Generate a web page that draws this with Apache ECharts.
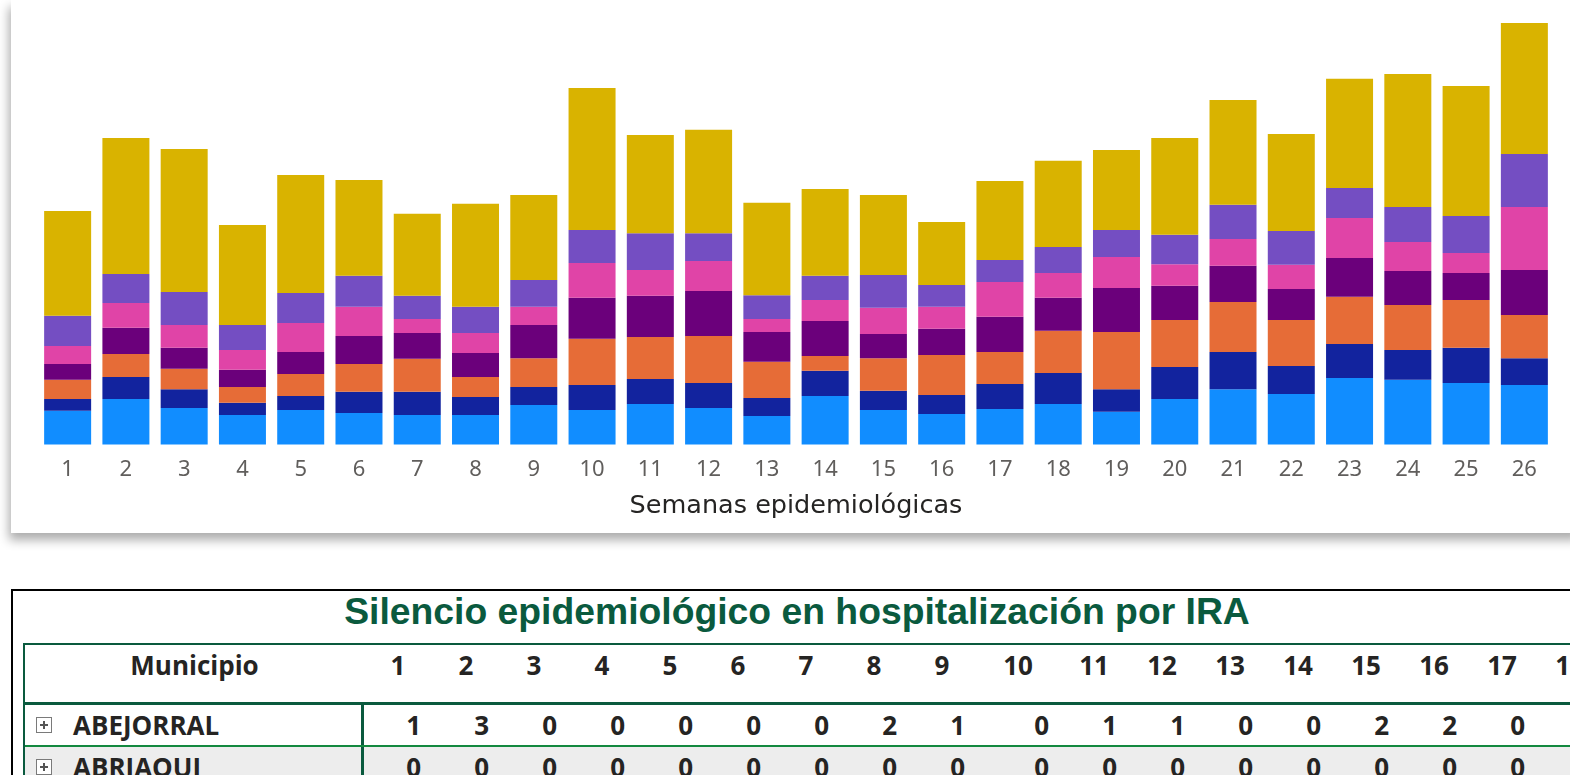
<!DOCTYPE html>
<html>
<head>
<meta charset="utf-8">
<script src="https://cdn.jsdelivr.net/npm/echarts@6.0.0/dist/echarts.min.js"></script>
<style>
    html, body { margin: 0; padding: 0; background: #fff; overflow: hidden; }
    body { width: 1570px; height: 775px; position: relative; }
    #casosPorSemana {
        position: absolute; left: 11px; top: 0; width: 1570px; height: 533px;
        background: #fff; box-shadow: -2px 7px 10px rgba(0, 0, 0, 0.33);
    }
    #silencio {
        position: absolute; left: 11px; top: 589px; width: 1568px; height: 300px;
        border: 2px solid #000; background: #fff;
    }
    #silencio .titulo {
        position: absolute; left: 0; right: 0; top: 0; text-align: center;
        font-family: 'Liberation Sans', Arial, sans-serif; font-weight: bold;
        font-size: 37.3px; line-height: 41px; color: #0A5A3E; white-space: nowrap;
    }
    #tabla {
        position: absolute; left: 10px; top: 52px; width: 1700px;
        border-left: 2px solid #0A5A3E; border-top: 2px solid #0A5A3E;
        font-family: 'Open Sans', sans-serif; font-weight: 700; font-size: 26px; color: #252423;
    }
    .fila { display: flex; white-space: nowrap; }
    .fila > div { flex: none; box-sizing: border-box; }
    .encabezado { height: 57px; border-bottom: 3px solid #0A5A3E; }
    .encabezado > div { text-align: center; line-height: 40px; }
    .dato { height: 40px; border-bottom: 2px solid #13893F; }
    .dato.gris { background: #EDEDED; border-bottom: none; }
    .dato > div { text-align: right; padding-right: 11px; line-height: 40px; }
    .dato > div.municipio { text-align: left; padding: 0 0 0 48px; border-right: 3px solid #0A5A3E; position: relative; }
    .expandir {
        position: absolute; left: 11px; top: 12px; width: 14px; height: 14px;
        border: 1.5px solid #7a7a7a; background: #fff;
    }
    .expandir::before { content: ''; position: absolute; left: 3px; right: 3px; top: 6.25px; height: 1.5px; background: #555; }
    .expandir::after { content: ''; position: absolute; top: 3px; bottom: 3px; left: 6.25px; width: 1.5px; background: #555; }
</style>
</head>
<body>
<div id="casosPorSemana"></div>
<div id="silencio">
    <div class="titulo">Silencio epidemiológico en hospitalización por IRA</div>
    <div id="tabla"></div>
</div>

<script>
// semanas epidemiologicas 1..26
const semanas = ['1','2','3','4','5','6','7','8','9','10','11','12','13','14','15','16','17','18','19','20','21','22','23','24','25','26']

// alto de cada segmento, de abajo hacia arriba
const grupo1 = [32.6,44,35.3,28.6,33.3,30.6,28.6,28.6,38.3,33.3,39.3,35.3,27.6,47,33.3,29.6,34.3,39.3,31.6,44,53.6,49,64.3,62.6,59.6,57.6]
const grupo2 = [11.4,21.3,18.3,11.7,13.7,20.4,22.4,17.4,17.3,24.3,24,24.3,17.4,24.3,18.7,18.4,24.3,30,22,31,36,27,33,29,34,26]
const grupo3 = [18.6,22.3,19.7,15.3,21.3,27,32,19.3,28,44.7,40.7,45.4,35,14.3,31.6,38.6,31,40.7,55.4,45.6,48.4,44.6,45.7,43.4,46.4,41.7]
const grupo4 = [15.4,25.4,20.3,16.7,21.3,27,25,23.3,32,39.7,40,43.6,29,34,23.4,25.4,34,32,42.6,33,35,30,37.6,33,26,43.7]
const grupo5 = [17.3,24,22,19.3,28,28.3,13.6,19.4,17.7,33.6,25,29,12.6,20.4,25.3,21.3,33.7,24,30,21,26,23.4,38.7,28,19.3,61]
const grupo6 = [29.4,28,32,24,29,30,22.4,25.3,26,32,35.6,27,23,23.3,31.7,21,21.3,25.3,26,28.4,33,32.6,29,34,36,51.3]
const grupo7 = [101.4,131.6,138.4,97,114.4,92.7,79.3,99.7,82.3,137.4,95,100,89.4,84,77.6,61,76.4,83.3,77.4,93.6,101.6,94,105.7,128.6,125.7,126.7]

const colores = ['#118DFF', '#12239E', '#E66C37', '#6B007B', '#E044A7', '#744EC2', '#D9B300']

// tabla de silencio epidemiologico
const semanasTabla = ['1','2','3','4','5','6','7','8','9','10','11','12','13','14','15','16','17','18']
const municipios = ['ABEJORRAL', 'ABRIAQUI']
const abejorral = [1,3,0,0,0,0,0,2,1,0,1,1,0,0,2,2,0,'']
const abriaqui = [0,0,0,0,0,0,0,0,0,0,0,0,0,0,0,0,0,'']

let chart = null

function initChart() {
    chart = echarts.init(document.getElementById('casosPorSemana'))

    const grupos = [grupo1, grupo2, grupo3, grupo4, grupo5, grupo6, grupo7]

    const option = {
        animation: false,
        grid: { left: 27.5, top: 0, width: 1515, height: 444.5 },
        xAxis: {
            type: 'category',
            data: semanas,
            axisLine: { show: false },
            axisTick: { show: false },
            axisLabel: {
                margin: 14,
                fontSize: 22,
                color: '#605E5C',
                fontFamily: 'Noto Sans'
            },
            name: 'Semanas epidemiológicas',
            nameLocation: 'middle',
            nameGap: 49,
            nameTextStyle: {
                fontSize: 25.5,
                color: '#252423',
                fontFamily: 'DejaVu Sans'
            }
        },
        yAxis: {
            type: 'value',
            min: 0,
            max: 430.3,
            show: false
        },
        series: grupos.map((valores, i) => ({
            name: 'Grupo ' + (i + 1),
            type: 'bar',
            stack: 'total',
            barWidth: 47,
            itemStyle: { color: colores[i] },
            data: valores
        }))
    }

    chart.setOption(option)
}

function buildTabla() {
    const tabla = document.getElementById('tabla')
    const ancho = i => (semanasTabla[i] === '10' ? 84 : 68)

    let html = '<div class="fila encabezado"><div style="width:339px">Municipio</div>'
    semanasTabla.forEach((s, i) => {
        html += '<div style="width:' + ancho(i) + 'px">' + s + '</div>'
    })
    html += '</div>'

    const filas = [abejorral, abriaqui]
    filas.forEach((valores, r) => {
        html += '<div class="fila dato' + (r % 2 ? ' gris' : '') + '">'
        html += '<div class="municipio" style="width:339px"><span class="expandir"></span>' + municipios[r] + '</div>'
        valores.forEach((v, i) => {
            html += '<div style="width:' + ancho(i) + 'px">' + v + '</div>'
        })
        html += '</div>'
    })

    tabla.innerHTML = html
}

buildTabla()
initChart()
</script>
</body>
</html>
